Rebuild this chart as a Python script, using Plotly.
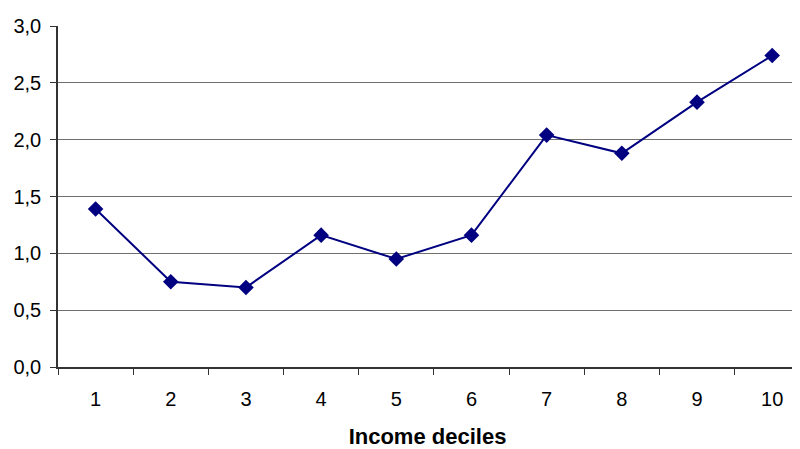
import plotly.graph_objects as go

deciles = ["1", "2", "3", "4", "5", "6", "7", "8", "9", "10"]
values = [1.39, 0.75, 0.70, 1.16, 0.95, 1.16, 2.04, 1.88, 2.33, 2.74]
y_ticks = [0, 0.5, 1.0, 1.5, 2.0, 2.5, 3.0]

fig = go.Figure()
fig.add_trace(go.Scatter(
    x=deciles, y=values, mode="lines+markers",
    line=dict(color="#000080", width=2),
    marker=dict(symbol="diamond", size=12, color="#000080"),
    showlegend=False,
))

fig.update_layout(
    width=792, height=441,
    margin=dict(l=50, r=3, t=18, b=82, autoexpand=False),
    paper_bgcolor="white", plot_bgcolor="white",
    separators=",.",
    font=dict(family="Liberation Sans, Arial, sans-serif", size=20, color="black"),
    xaxis=dict(
        type="category", range=[-0.5, 9.33],
        tickson="boundaries", ticks="outside", ticklen=6,
        tickcolor="#333333", showline=True, linecolor="#333333", linewidth=1.5,
        showgrid=False, tickfont=dict(size=20), ticklabelstandoff=13,
        title=dict(text="<b>Income deciles</b>", font=dict(size=22), standoff=20),
    ),
    yaxis=dict(
        range=[0, 3.0], tickvals=y_ticks, tickformat=".1f",
        ticks="outside", ticklen=6, tickcolor="#333333",
        showline=True, linecolor="#333333", linewidth=1.5,
        showgrid=True, gridcolor="#6f6f6f", gridwidth=1,
        zeroline=False, tickfont=dict(size=20), ticklabelstandoff=5,
    ),
)

fig.write_html("out.html")
